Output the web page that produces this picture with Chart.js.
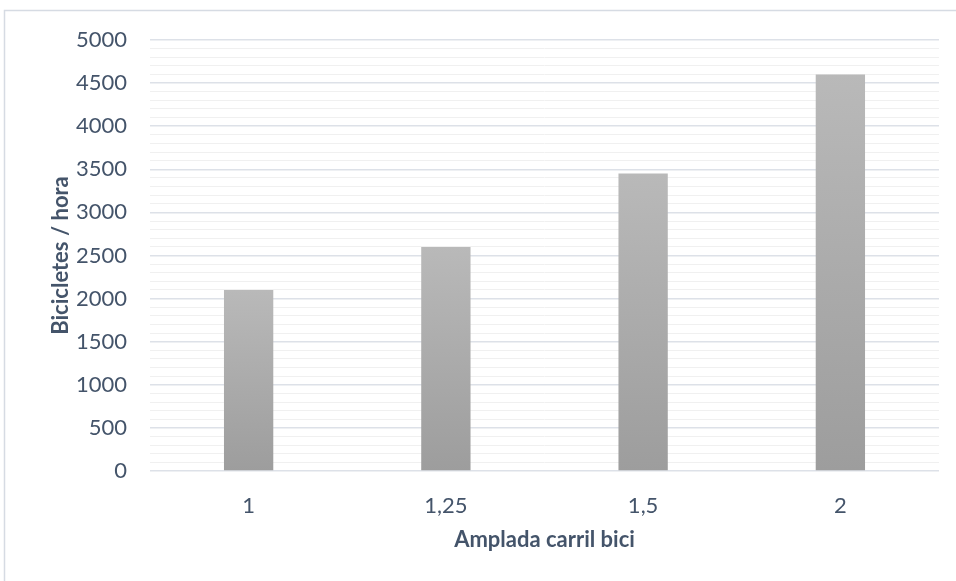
<!DOCTYPE html>
<html>
<head>
<meta charset="utf-8">
<script src="https://cdn.jsdelivr.net/npm/chart.js@4.4.1/dist/chart.umd.min.js"></script>
<style>
  html, body { margin: 0; padding: 0; background: #ffffff; }
  #wrap { position: relative; width: 956px; height: 581px; }
</style>
</head>
<body>
<div id="wrap"><canvas id="c" width="956" height="581"></canvas></div>
<script>
// Lane width (m) and bicycle capacity (bicycles per hour)
const amplades = ['1', '1,25', '1,5', '2'];
const bicicletes = [2100, 2600, 3450, 4600];
const yTitol = 'Bicicletes / hora';
const xTitol = 'Amplada carril bici';

const textColor = '#44546A';
const fontFamily = 'Lato, "Liberation Sans", sans-serif';

// Vertical grey gradient for each bar, from its top down to the baseline
function barGradient(ctx) {
  const chart = ctx.chart;
  if (!chart.chartArea || ctx.type !== 'data') return '#aaaaaa';
  const y = chart.scales.y;
  const top = y.getPixelForValue(ctx.raw);
  const base = y.getPixelForValue(0);
  const g = chart.ctx.createLinearGradient(0, top, 0, base);
  g.addColorStop(0, '#b9b9b9');
  g.addColorStop(1, '#9d9d9d');
  return g;
}

// Thin frame along the top and left edge of the chart object
const frame = {
  id: 'frame',
  beforeDraw(chart) {
    const c = chart.ctx;
    c.save();
    c.strokeStyle = '#d6dbe3';
    c.lineWidth = 1.5;
    c.beginPath();
    c.moveTo(4.5, 581);
    c.lineTo(4.5, 10.5);
    c.lineTo(956, 10.5);
    c.stroke();
    c.restore();
  }
};

new Chart(document.getElementById('c'), {
  type: 'bar',
  data: {
    labels: amplades,
    datasets: [{
      data: bicicletes,
      backgroundColor: barGradient,
      borderWidth: 0,
      barPercentage: 0.5,
      categoryPercentage: 0.5
    }]
  },
  options: {
    responsive: false,
    animation: false,
    layout: { padding: { left: 40, right: 17, top: 40, bottom: 20 } },
    plugins: {
      legend: { display: false },
      tooltip: { enabled: false }
    },
    scales: {
      x: {
        grid: { display: false },
        border: { display: false },
        ticks: {
          color: textColor,
          font: { family: fontFamily, size: 22 },
          padding: 14
        },
        title: {
          display: true,
          text: xTitol,
          color: textColor,
          font: { family: fontFamily, size: 22, weight: 'bold' },
          padding: { top: 4, bottom: 8 }
        },
        afterFit(scale) { scale.height = 90; }
      },
      y: {
        min: 0,
        max: 5000,
        border: { display: false },
        grid: {
          drawTicks: false,
          color: (c) => (c.tick && c.tick.value % 500 === 0) ? '#dde1e8' : '#f0f0f0',
          lineWidth: (c) => (c.tick && c.tick.value % 500 === 0) ? 1.5 : 1
        },
        ticks: {
          stepSize: 100,
          maxTicksLimit: 60,
          autoSkip: false,
          color: textColor,
          font: { family: fontFamily, size: 22 },
          padding: 23,
          // minor steps keep their grid line but carry no label
          callback: (v) => (v % 500 === 0 ? String(v) : '')
        },
        title: {
          display: true,
          text: yTitol,
          color: textColor,
          font: { family: fontFamily, size: 22, weight: 'bold' },
          padding: { top: 8, bottom: 4 }
        },
        afterFit(scale) { scale.width = 110; }
      }
    }
  },
  plugins: [frame]
});
</script>
</body>
</html>
